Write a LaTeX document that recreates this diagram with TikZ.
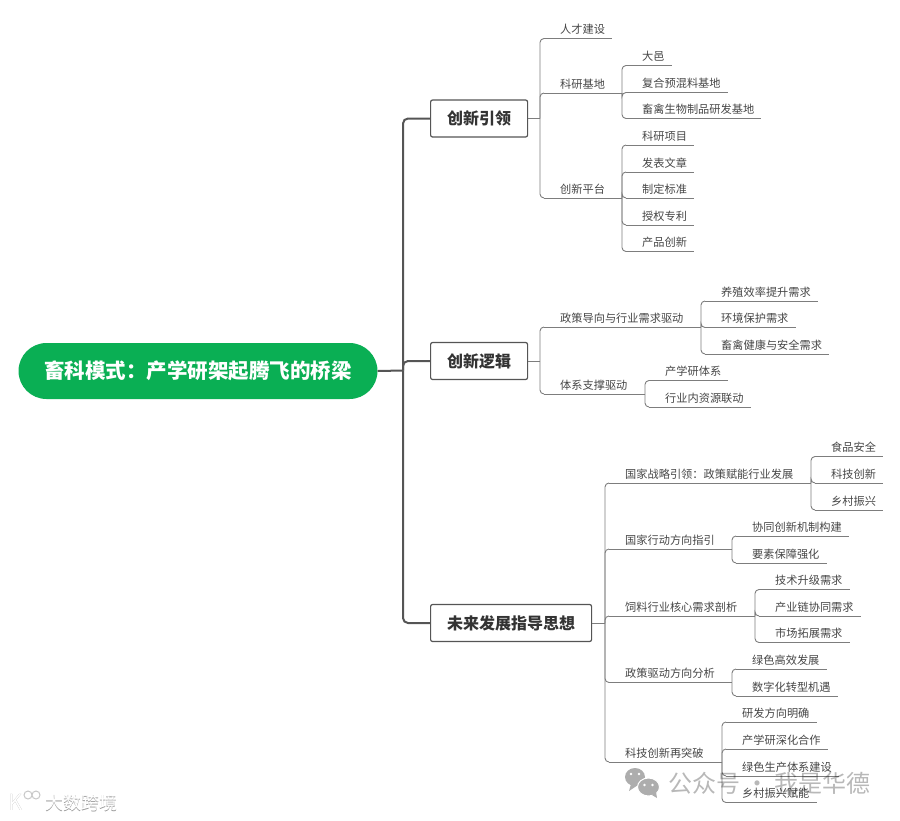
\documentclass[tikz,border=0pt]{standalone}
\usepackage{fontspec}
\setmainfont{Noto Sans CJK SC}
\usetikzlibrary{calc}
\definecolor{rootgreen}{RGB}{10,175,84}
\definecolor{linkgrey}{RGB}{125,125,125}
\definecolor{trunkgrey}{RGB}{85,85,85}
\definecolor{txtgrey}{RGB}{70,70,70}

\begin{document}
\begin{tikzpicture}[x=1pt,y=-1pt,
  rootnd/.style={rounded corners=28pt, fill=rootgreen, text=white, font=\fontsize{20.5}{23}\selectfont\bfseries,
    minimum width=359pt, minimum height=56pt, inner sep=0pt},
  mainnd/.style={draw=trunkgrey, line width=1.2pt, rounded corners=2pt, fill=white, anchor=west, inner xsep=16.5pt,
    minimum height=37pt, inner ysep=0pt, text=black!80, font=\fontsize{16}{18}\selectfont\bfseries},
  subnd/.style={anchor=south west, inner xsep=0pt, inner ysep=3pt, text height=9.5pt, text depth=1.5pt,
    text=txtgrey, font=\fontsize{11.2}{13}\selectfont,
    execute at begin node={\hskip20pt}, execute at end node={\hskip7pt},
    append after command={([xshift=4pt]\tikzlastnode.south west) edge[lnk] (\tikzlastnode.south east)}},
  lnk/.style={draw=linkgrey, line width=0.9pt},
  bus/.style={lnk, rounded corners=4pt},
  trk/.style={draw=trunkgrey, line width=2pt, rounded corners=5pt},
  wmk/.style={text=black, opacity=0.28, inner sep=0pt, font=\fontsize{24}{26}\selectfont},
  dsk/.style={inner sep=0pt, anchor=west, font=\fontsize{18}{20}\selectfont},
]
\useasboundingbox (0,0) rectangle (900,820);
% root and main topics
\node[rootnd] (root) at (198,371) {畜科模式^^^^ff1a产学研架起腾飞的桥梁};
\node[mainnd] (cxyl) at (430,118.5) {创新引领};
\node[mainnd] (cxlj) at (430,361) {创新逻辑};
\node[mainnd] (wlfz) at (430,623) {未来发展指导思想};
\coordinate (trunk) at (403,370.5);
% branch: innovation lead
\node[subnd] (rcjs) at (540,38.5) {人才建设};
\node[subnd] (kyjd) at (540,93) {科研基地};
\node[subnd] (cxpt) at (540,198) {创新平台};
\node[subnd] (dy) at (622,65.5) {大邑};
\node[subnd] (fhyh) at (622,92.5) {复合预混料基地};
\node[subnd] (xqsw) at (622,118.5) {畜禽生物制品研发基地};
\node[subnd] (kyxm) at (622,145) {科研项目};
\node[subnd] (fbwz) at (622,172) {发表文章};
\node[subnd] (zdbz) at (622,198) {制定标准};
\node[subnd] (sqzl) at (622,225) {授权专利};
\node[subnd] (cpcx) at (622,251.5) {产品创新};
% branch: innovation logic
\node[subnd] (zcdx) at (540,327) {政策导向与行业需求驱动};
\node[subnd] (txzc) at (540,394) {体系支撑驱动};
\node[subnd] (yzxl) at (701,301) {养殖效率提升需求};
\node[subnd] (hjbh) at (701,327.5) {环境保护需求};
\node[subnd] (xqjk) at (701,354) {畜禽健康与安全需求};
\node[subnd] (cxytx) at (645,380.5) {产学研体系};
\node[subnd] (hyzy) at (645,407) {行业内资源联动};
% branch: future guidance
\node[subnd] (gjzl) at (605,483) {国家战略引领^^^^ff1a政策赋能行业发展};
\node[subnd] (gjxd) at (605,549) {国家行动方向指引};
\node[subnd] (slhy) at (605,616) {饲料行业核心需求剖析};
\node[subnd] (zcqd) at (605,682.5) {政策驱动方向分析};
\node[subnd] (kjzt) at (605,762) {科技创新再突破};
\node[subnd] (spaq) at (811,456.5) {食品安全};
\node[subnd] (kjcx) at (811,483) {科技创新};
\node[subnd] (xczx) at (811,510) {乡村振兴};
\node[subnd] (xtcx) at (732,536) {协同创新机制构建};
\node[subnd] (ysbz) at (732,563) {要素保障强化};
\node[subnd] (jssj) at (755,589.5) {技术升级需求};
\node[subnd] (cylx) at (755,616) {产业链协同需求};
\node[subnd] (sctz) at (755,642.5) {市场拓展需求};
\node[subnd] (lsgx) at (732,669) {绿色高效发展};
\node[subnd] (szzx) at (732,696) {数字化转型机遇};
\node[subnd] (yffx) at (722,722) {研发方向明确};
\node[subnd] (cxysh) at (722,749) {产学研深化合作};
\node[subnd] (lssc) at (722,776) {绿色生产体系建设};
\node[subnd] (xcfn) at (722,802.5) {乡村振兴赋能};
% connectors
\draw[trk, rounded corners=0pt] (root.east) -- (trunk);
\foreach \c in {cxyl,cxlj,wlfz}
  \draw[trk] (trunk) |- (\c.west);
\foreach \p/\c in {cxyl/rcjs,cxyl/kyjd,cxyl/cxpt,cxlj/zcdx,cxlj/txzc,
    wlfz/gjzl,wlfz/gjxd,wlfz/slhy,wlfz/zcqd,wlfz/kjzt} {
  \draw[lnk] (\p.east) -- (\p.east -| \c.south west);
  \draw[bus] (\p.east -| \c.south west) |- ([xshift=4pt]\c.south west);
}
\foreach \p/\c in {kyjd/dy,kyjd/fhyh,kyjd/xqsw,
    cxpt/kyxm,cxpt/fbwz,cxpt/zdbz,cxpt/sqzl,cxpt/cpcx,
    zcdx/yzxl,zcdx/hjbh,zcdx/xqjk,txzc/cxytx,txzc/hyzy,
    gjzl/spaq,gjzl/kjcx,gjzl/xczx,gjxd/xtcx,gjxd/ysbz,
    slhy/jssj,slhy/cylx,slhy/sctz,zcqd/lsgx,zcqd/szzx,
    kjzt/yffx,kjzt/cxysh,kjzt/lssc,kjzt/xcfn} {
  \draw[lnk] (\p.south east) -- (\p.south east -| \c.south west);
  \draw[bus] (\p.south east -| \c.south west) |- ([xshift=4pt]\c.south west);
}
% watermarks
\fill[black!32] (635,777) ellipse (10pt and 9pt);
\fill[black!32] (631,784) -- (629,791) -- (638,785) -- cycle;
\fill[black!32, draw=white, line width=1pt] (648.5,787) ellipse (11pt and 9pt);
\fill[black!32] (652,795) -- (657,798) -- (656,792) -- cycle;
\fill[white] (631,774) circle (1.4pt) (639,774) circle (1.4pt) (644.5,785) circle (1.3pt) (652.5,785) circle (1.3pt);
\node[wmk, anchor=west] (gzh) at (668,783) {公众号 · 我是华德};
\node[dsk, text=black!40] (dskj) at (45.6,803.6) {大数跨境};
\node[dsk, text=white] at (45,803) {大数跨境};
\node[dsk, text=black!40, font=\fontsize{22}{24}\selectfont] (logo) at (8.6,802.6) {K};
\node[dsk, text=white, font=\fontsize{22}{24}\selectfont] at (8,802) {K};
\draw[black!22, line width=1pt] (28,795) circle (4pt) (36,795) circle (4pt);
\end{tikzpicture}
\end{document}
